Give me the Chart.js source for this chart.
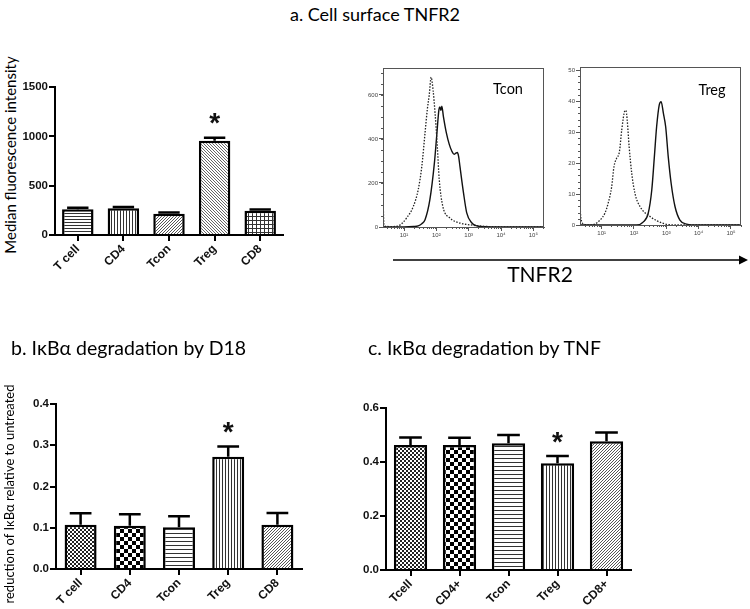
<!DOCTYPE html>
<html>
<head>
<meta charset="utf-8">
<script src="https://cdn.jsdelivr.net/npm/chart.js@4.4.1/dist/chart.umd.min.js"></script>
<style>
  body { margin: 0; background: #fff; }
  #page { position: relative; width: 750px; height: 609px; overflow: hidden; background: #fff; }
  canvas { position: absolute; }
  .txt { position: absolute; font-family: Lato, "Open Sans", sans-serif; color: #000; white-space: nowrap; }
  .vert { transform: translate(-50%, -50%) rotate(-90deg); }
</style>
</head>
<body>
<div id="page">
  <div class="txt" style="left:0;width:750px;top:3px;text-align:center;font-size:18px;">a. Cell surface TNFR2</div>
  <div class="txt vert" style="left:10px;top:155px;font-size:15px;">Median fluorescence intensity</div>

  <canvas id="barA" width="290" height="220" style="left:0;top:60px;"></canvas>
  <canvas id="histTcon" width="200" height="190" style="left:350px;top:55px;"></canvas>
  <canvas id="histTreg" width="200" height="190" style="left:548px;top:53px;"></canvas>

  <div class="txt" style="left:508px;top:88px;transform:translate(-50%,-50%);font-size:14.5px;">Tcon</div>
  <div class="txt" style="left:712px;top:89px;transform:translate(-50%,-50%);font-size:14.5px;">Treg</div>

  <svg style="position:absolute;left:0;top:0" width="750" height="609">
    <line x1="393" y1="260" x2="740" y2="260" stroke="#000" stroke-width="1.5"/>
    <polygon points="748,260 739,255.5 739,264.5" fill="#000"/>
  </svg>
  <div class="txt" style="left:540px;top:273px;transform:translate(-50%,-50%);font-size:21px;">TNFR2</div>

  <div class="txt" style="left:11px;top:336px;font-size:19.5px;">b. IκBα degradation by D18</div>
  <div class="txt" style="left:368px;top:336px;font-size:19.5px;">c. IκBα degradation by TNF</div>
  <div class="txt vert" style="left:9px;top:494px;font-size:13px;">reduction of IκBα relative to untreated</div>

  <canvas id="barB" width="310" height="224" style="left:0;top:385px;"></canvas>
  <canvas id="barC" width="310" height="219" style="left:330px;top:390px;"></canvas>
</div>

<script>
// ---- panel a: median fluorescence intensity ----
const aLabels = ['T cell', 'CD4', 'Tcon', 'Treg', 'CD8'];
const aMfi = [262, 270, 215, 955, 245];
const aMfiErr = [15, 14, 14, 30, 14];
const aTicks = [0, 500, 1000, 1500];

// ---- panel b: IkBa degradation by D18 ----
const bLabels = ['T cell', 'CD4', 'Tcon', 'Treg', 'CD8'];
const bReduction = [0.107, 0.105, 0.101, 0.272, 0.107];
const bReductionErr = [0.028, 0.028, 0.027, 0.025, 0.029];
const bTicks = [0, 0.1, 0.2, 0.3, 0.4];

// ---- panel c: IkBa degradation by TNF ----
const cLabels = ['Tcell', 'CD4+', 'Tcon', 'Treg', 'CD8+'];
const cReduction = [0.463, 0.463, 0.469, 0.395, 0.477];
const cReductionErr = [0.028, 0.027, 0.031, 0.027, 0.032];
const cTicks = [0, 0.2, 0.4, 0.6];

// ---- histograms, x in log10 units of TNFR2 fluorescence ----
const histDecades = [1, 2, 3, 4, 5];
const tconIsoX = [0.35, 0.38, 0.42, 0.6, 0.8, 0.95, 1.08, 1.29, 1.44, 1.55, 1.65, 1.72, 1.78, 1.84, 1.9, 1.96, 2.03, 2.09, 2.2, 2.42, 2.73, 3.14, 3.5, 4.0, 4.5, 5.33];
const tconIsoY = [140, 10, 3, 2, 4, 18, 41, 94, 170, 275, 427, 533, 600, 680, 620, 518, 366, 215, 94, 41, 18, 8, 3, 1, 0, 0];
const tconStainX = [0.35, 1.0, 1.3, 1.44, 1.55, 1.65, 1.8, 1.94, 2.01, 2.08, 2.11, 2.14, 2.17, 2.22, 2.31, 2.4, 2.48, 2.55, 2.6, 2.65, 2.69, 2.73, 2.84, 2.94, 3.1, 3.26, 3.5, 4.0, 5.33];
const tconStainY = [0, 0, 2, 5, 15, 33, 124, 291, 412, 533, 545, 530, 548, 500, 427, 375, 344, 330, 335, 338, 320, 275, 155, 64, 18, 5, 1, 0, 0];
const tconTicks = [0, 200, 400, 600];

const tregIsoX = [0.33, 0.36, 0.45, 0.6, 0.79, 0.95, 1.1, 1.2, 1.31, 1.38, 1.46, 1.55, 1.62, 1.72, 1.75, 1.79, 1.85, 1.93, 2.03, 2.19, 2.5, 2.91, 3.3, 5.31];
const tregIsoY = [6.5, 2, 0.3, 0, 0.3, 1.6, 3.8, 7, 12.4, 18.8, 21.5, 23.7, 30.6, 36.9, 37, 33.9, 25.3, 16.7, 10.2, 5.9, 2.7, 0.5, 0, 0];
const tregStainX = [0.33, 2.08, 2.29, 2.44, 2.55, 2.63, 2.7, 2.78, 2.84, 2.91, 2.98, 3.06, 3.15, 3.27, 3.42, 3.63, 4.0, 5.31];
const tregStainY = [0, 0, 1, 3.8, 11.3, 22, 31.7, 38.7, 39.8, 36, 31.7, 22, 13.4, 5.9, 1.6, 0.3, 0, 0];
const tregTicks = [0, 10, 20, 30, 40, 50];

const SUP = { 1: '\u00b9', 2: '\u00b2', 3: '\u00b3', 4: '\u2074', 5: '\u2075' };

// small repeating fills like the GraphPad bar patterns
function makePattern(size, color, draw) {
    const c = document.createElement('canvas');
    c.width = size; c.height = size;
    const g = c.getContext('2d');
    g.fillStyle = '#fff';
    g.fillRect(0, 0, size, size);
    g.fillStyle = color;
    draw(g, size);
    return g.createPattern(c, 'repeat');
}
const hLines = (n, col) => makePattern(n, col, (g) => g.fillRect(0, 0, n, 1));
const vLines = (n, col) => makePattern(n, col, (g) => g.fillRect(0, 0, 1, n));
const diagUp = (n, col) => makePattern(n, col, (g) => { for (let i = 0; i < n; i++) g.fillRect(i, n - 1 - i, 1, 1); });
const diagDown = (n, col) => makePattern(n, col, (g) => { for (let i = 0; i < n; i++) g.fillRect(i, i, 1, 1); });
const grid = (n, col) => makePattern(n, col, (g) => { g.fillRect(0, 0, n, 1); g.fillRect(0, 0, 1, n); });
const checker = (n, col) => makePattern(n * 2, col, (g) => { g.fillRect(0, 0, n, n); g.fillRect(n, n, n, n); });

const errorBarPlugin = {
    id: 'errorBars',
    afterDatasetsDraw(chart, args, opts) {
        if (!opts.errors) return;
        const ctx = chart.ctx;
        const yScale = chart.scales.y;
        const values = chart.data.datasets[0].data;
        ctx.save();
        ctx.strokeStyle = '#000';
        ctx.lineWidth = 2.5;
        chart.getDatasetMeta(0).data.forEach((bar, i) => {
            const top = yScale.getPixelForValue(values[i]);
            const capY = yScale.getPixelForValue(values[i] + opts.errors[i]);
            const half = bar.width * 0.34;
            ctx.beginPath();
            ctx.moveTo(bar.x, top);
            ctx.lineTo(bar.x, capY);
            ctx.moveTo(bar.x - half, capY);
            ctx.lineTo(bar.x + half, capY);
            ctx.stroke();
            if (opts.star === i) {
                // centre the glyph itself 19px above the cap
                ctx.fillStyle = '#111';
                ctx.font = 'bold 28px "Liberation Sans"';
                ctx.textAlign = 'center';
                ctx.textBaseline = 'alphabetic';
                const m = ctx.measureText('*');
                const mid = (m.actualBoundingBoxAscent - m.actualBoundingBoxDescent) / 2;
                ctx.fillText('*', bar.x, capY - 19 + mid);
            }
        });
        ctx.restore();
    }
};

// frame + minor ticks for the flow histograms
const histFramePlugin = {
    id: 'histFrame',
    afterDraw(chart, args, opts) {
        if (!opts.minorY) return;
        const ctx = chart.ctx;
        const a = chart.chartArea;
        const xs = chart.scales.x, ys = chart.scales.y;
        ctx.save();
        ctx.strokeStyle = '#555';
        ctx.lineWidth = 1;
        ctx.strokeRect(a.left + 0.5, a.top + 0.5, a.right - a.left - 1, a.bottom - a.top);
        ctx.beginPath();
        for (let v = 0; v <= ys.max; v += opts.minorY) {
            const y = Math.round(ys.getPixelForValue(v)) + 0.5;
            ctx.moveTo(a.left, y);
            ctx.lineTo(a.left - 2, y);
        }
        for (let d = 0; d <= 5; d++) {
            for (let k = 2; k <= 9; k++) {
                const v = d + Math.log10(k);
                if (v < xs.min || v > xs.max) continue;
                const x = Math.round(xs.getPixelForValue(v)) + 0.5;
                ctx.moveTo(x, a.bottom);
                ctx.lineTo(x, a.bottom + 2);
            }
        }
        ctx.stroke();
        ctx.restore();
    }
};

Chart.register(errorBarPlugin, histFramePlugin);

function barChart(id, labels, values, errors, fills, o) {
    return new Chart(document.getElementById(id), {
        type: 'bar',
        data: {
            labels: labels,
            datasets: [{
                data: values,
                backgroundColor: fills,
                borderColor: '#000',
                borderWidth: 2.5,
                barPercentage: o.barPct,
                categoryPercentage: 1
            }]
        },
        options: {
            responsive: false,
            animation: false,
            devicePixelRatio: 1,
            layout: { padding: { top: o.padTop, right: o.padRight, left: 0, bottom: 0 } },
            plugins: {
                legend: { display: false },
                tooltip: { enabled: false },
                errorBars: { errors: errors, star: 3 }
            },
            scales: {
                x: {
                    offset: true,
                    grid: { offset: false, drawOnChartArea: false, tickLength: 6, lineWidth: 2, color: '#000' },
                    border: { color: '#000', width: 2 },
                    ticks: {
                        maxRotation: 45, minRotation: 45, padding: 1,
                        color: '#111',
                        font: { family: 'Liberation Sans', size: 12, weight: 'bold' }
                    },
                    afterFit: (s) => { s.height = o.xHeight; }
                },
                y: {
                    min: 0,
                    max: o.yMax,
                    afterBuildTicks: (s) => { s.ticks = o.ticks.map(v => ({ value: v })); },
                    grid: { drawOnChartArea: false, tickLength: 6, lineWidth: 2, color: '#000' },
                    border: { color: '#000', width: 2 },
                    ticks: {
                        padding: 1,
                        color: '#111',
                        font: { family: 'Liberation Sans', size: 11.5, weight: 'bold' },
                        callback: o.fmt
                    },
                    afterFit: (s) => { s.width = o.yWidth; }
                }
            }
        }
    });
}

function histChart(id, isoX, isoY, stainX, stainY, o) {
    const pts = (xs, ys) => xs.map((x, i) => ({ x: x, y: ys[i] }));
    return new Chart(document.getElementById(id), {
        type: 'line',
        data: {
            datasets: [{
                data: pts(isoX, isoY),
                borderColor: '#222',
                borderWidth: 1.3,
                borderDash: [1.5, 1.5],
                pointRadius: 0,
                cubicInterpolationMode: 'monotone'
            }, {
                data: pts(stainX, stainY),
                borderColor: '#111',
                borderWidth: 1.4,
                pointRadius: 0,
                cubicInterpolationMode: 'monotone'
            }]
        },
        options: {
            responsive: false,
            animation: false,
            devicePixelRatio: 1,
            layout: { padding: { top: o.padTop, right: o.padRight, left: 0, bottom: 0 } },
            plugins: {
                legend: { display: false },
                tooltip: { enabled: false },
                histFrame: { minorY: o.minorY }
            },
            scales: {
                x: {
                    type: 'linear',
                    min: o.xMin,
                    max: o.xMax,
                    afterBuildTicks: (s) => { s.ticks = histDecades.map(v => ({ value: v })); },
                    grid: { drawOnChartArea: false, tickLength: 4, lineWidth: 1, color: '#555' },
                    border: { color: '#555', width: 1 },
                    ticks: {
                        padding: 1, color: '#444',
                        font: { family: 'Liberation Sans', size: 6 },
                        callback: (v) => '10' + SUP[v]
                    },
                    afterFit: (s) => { s.height = o.xHeight; }
                },
                y: {
                    min: 0,
                    max: o.yMax,
                    afterBuildTicks: (s) => { s.ticks = o.ticks.map(v => ({ value: v })); },
                    grid: { drawOnChartArea: false, tickLength: 4, lineWidth: 1, color: '#555' },
                    border: { color: '#555', width: 1 },
                    ticks: {
                        padding: 1, color: '#444',
                        font: { family: 'Liberation Sans', size: 6 }
                    },
                    afterFit: (s) => { s.width = o.yWidth; }
                }
            }
        }
    });
}

barChart('barA', aLabels, aMfi, aMfiErr,
    [hLines(3, '#333'), vLines(3, '#333'), diagUp(3, '#555'), diagDown(3, '#666'), grid(4, '#333')],
    { barPct: 0.69, padTop: 27, padRight: 7, xHeight: 45, yWidth: 55, yMax: 1500, ticks: aTicks, fmt: (v) => String(v) });

barChart('barB', bLabels, bReduction, bReductionErr,
    [checker(2, '#222'), checker(4, '#000'), hLines(4, '#333'), vLines(3, '#333'), diagUp(3, '#555')],
    { barPct: 0.65, padTop: 19, padRight: 8, xHeight: 40, yWidth: 56, yMax: 0.4, ticks: bTicks, fmt: (v) => v.toFixed(1) });

barChart('barC', cLabels, cReduction, cReductionErr,
    [checker(2, '#222'), checker(4, '#000'), hLines(4, '#333'), vLines(3, '#333'), diagUp(3, '#555')],
    { barPct: 0.68, padTop: 18, padRight: 9, xHeight: 39, yWidth: 56, yMax: 0.6, ticks: cTicks, fmt: (v) => v.toFixed(1) });

histChart('histTcon', tconIsoX, tconIsoY, tconStainX, tconStainY,
    { xMin: 0.35, xMax: 5.33, yMax: 722, ticks: tconTicks, minorY: 50, padTop: 13, padRight: 6, xHeight: 18, yWidth: 33 });

histChart('histTreg', tregIsoX, tregIsoY, tregStainX, tregStainY,
    { xMin: 0.33, xMax: 5.31, yMax: 51, ticks: tregTicks, minorY: 2, padTop: 14, padRight: 7, xHeight: 18, yWidth: 32 });
</script>
</body>
</html>
